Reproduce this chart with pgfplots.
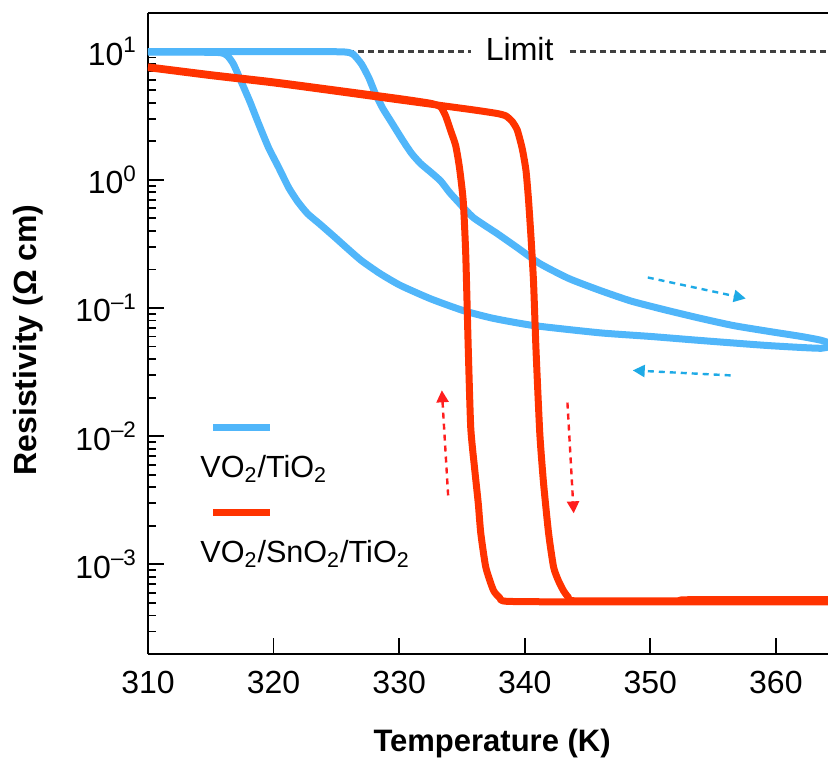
\documentclass[border=0pt]{standalone}
\usepackage{fontspec}
\setmainfont{Liberation Sans}
\usepackage{pgfplots}
\pgfplotsset{compat=1.18}
\usetikzlibrary{arrows.meta}

\definecolor{vblue}{RGB}{80,182,250}
\definecolor{vred}{RGB}{255,51,0}
\definecolor{ablue}{RGB}{30,170,230}
\definecolor{ared}{RGB}{255,30,30}

\begin{document}
\begin{tikzpicture}
\begin{axis}[
  scale only axis, width=340pt, height=320.5pt,
  xmin=310, xmax=364.15,
  ymode=log, ymin=2e-4, ymax=20,
  axis x line=box, axis y line*=left,
  y axis line style={-},
  axis line style={line width=1pt},
  xtick={310,320,...,360}, xtick pos=left,
  ytick={1e-3,1e-2,1e-1,1,10}, ytick pos=left,
  yticklabels={10\textsuperscript{–3},10\textsuperscript{–2},10\textsuperscript{–1},10\textsuperscript{0},10\textsuperscript{1}},
  minor ytick={2e-4,3e-4,4e-4,5e-4,6e-4,7e-4,8e-4,9e-4,
               2e-3,3e-3,4e-3,5e-3,6e-3,7e-3,8e-3,9e-3,
               2e-2,3e-2,4e-2,5e-2,6e-2,7e-2,8e-2,9e-2,
               0.2,0.3,0.4,0.5,0.6,0.7,0.8,0.9,
               2,3,4,5,6,7,8,9},
  tick align=inside,
  major tick length=8pt, minor tick length=4pt,
  every tick/.style={black, line width=0.9pt},
  /pgf/number format/assume math mode=true,
  ticklabel style={font=\fontsize{16}{19}\selectfont},
  xticklabel style={yshift=-5pt},
  yticklabel style={xshift=-2pt},
  xlabel={\bfseries Temperature (K)},
  xlabel style={font=\fontsize{15.5}{18}\selectfont, at={(axis description cs:0.506,-0.139)}, anchor=center},
  ylabel={\bfseries Resistivity (Ω cm)},
  ylabel style={font=\fontsize{16}{19}\selectfont, at={(axis description cs:-0.1765,0.49)}, anchor=center, rotate=0},
  clip=true,
  curve/.style={line width=3.5pt, line join=round, smooth, tension=0.35},
]

% measurement limit
\addplot[color=black!75, line width=1.2pt, dash pattern=on 3pt off 2pt] coordinates {(310,10) (335.7,10)};
\addplot[color=black!75, line width=1.2pt, dash pattern=on 3pt off 2pt] coordinates {(343.6,10) (364.5,10)};
\node[font=\fontsize{16}{19}\selectfont, inner sep=0pt] at (axis cs:339.6,10.5) {Limit};

% VO2/TiO2, heating
\addplot[curve, color=vblue] coordinates {
(310,10.0)(316,10.0)(322,10.0)(325.5,9.95)(326.3,9.6)(327.0,8.0)(327.6,6.2)
(328.1,4.70)(328.7,3.6)(329.3,2.90)(330.3,2.02)(331.0,1.60)(331.7,1.34)
(332.5,1.15)(333.3,0.98)(334.0,0.80)(334.6,0.689)(335.9,0.508)(337.8,0.381)
(339.4,0.296)(341.2,0.222)(343.5,0.170)(346.0,0.137)(348.5,0.113)(351.4,0.0955)
(354,0.083)(356.6,0.073)(359.3,0.066)(362.0,0.060)(363.6,0.056)(364.6,0.052)};
% VO2/TiO2, cooling
\addplot[curve, color=vblue] coordinates {
(364.6,0.052)(363.6,0.0485)(359.3,0.051)(354.0,0.0558)(350.0,0.060)(346.0,0.064)
(340.7,0.073)(337.5,0.083)(335.1,0.0955)(332.5,0.118)(330.1,0.150)(328.5,0.185)
(327.0,0.234)(325.9,0.29)(324.9,0.355)(323.7,0.45)(322.7,0.545)(321.9,0.68)
(321.2,0.87)(320.4,1.25)(319.6,1.78)(318.8,2.75)(318.1,4.1)(317.4,5.9)
(316.8,8.0)(316.3,9.3)(315.5,9.85)(310,9.9)};

% VO2/SnO2/TiO2, heating
\addplot[curve, color=vred] coordinates {
(310,7.5)(315,6.5)(320,5.7)(325,4.9)(330,4.2)(333.3,3.8)(336,3.5)(337.8,3.29)
(338.5,3.15)(339.0,2.85)(339.4,2.45)(339.8,1.75)(340.1,1.18)(340.3,0.70)
(340.5,0.355)(340.7,0.16)(340.9,0.0466)(341.2,0.0105)(341.5,4.28e-3)
(341.9,1.75e-3)(342.3,9.5e-4)(342.7,7.4e-4)(343.1,6.2e-4)(343.5,5.5e-4)
(344.0,5.2e-4)(352,5.2e-4)(353,5.3e-4)(364.5,5.3e-4)};
% VO2/SnO2/TiO2, cooling
\addplot[curve, color=vred] coordinates {
(364.5,5.1e-4)(345,5.1e-4)(338.6,5.15e-4)(338.0,5.5e-4)(337.5,6.3e-4)
(336.9,9.5e-4)(336.5,1.75e-3)(336.3,2.99e-3)(336.0,5.7e-3)(335.7,0.0117)
(335.5,0.0492)(335.3,0.266)(335.1,0.689)(334.8,1.25)(334.5,1.85)(334.1,2.42)
(333.7,3.15)(333.3,3.7)(332.5,3.95)(330,4.3)(325,5.0)(320,5.8)(315,6.6)(310,7.6)};

% sweep direction arrows
\draw[ablue, line width=1.2pt, dash pattern=on 3pt off 2.5pt, -{Triangle[length=6pt,width=6pt]}]
  (axis cs:349.8,0.173) -- (axis cs:357.6,0.1186);
\draw[ablue, line width=1.2pt, dash pattern=on 3pt off 2.5pt, -{Triangle[length=6pt,width=6pt]}]
  (axis cs:356.4,0.0298) -- (axis cs:348.6,0.0326);
\draw[ared, line width=1.2pt, dash pattern=on 3pt off 2.5pt, -{Triangle[length=6pt,width=6pt]}]
  (axis cs:333.9,3.45e-3) -- (axis cs:333.4,0.0228);
\draw[ared, line width=1.2pt, dash pattern=on 3pt off 2.5pt, -{Triangle[length=6pt,width=6pt]}]
  (axis cs:343.4,0.0183) -- (axis cs:343.9,2.5e-3);

% legend
\draw[vblue, line width=3.5pt] (axis cs:315.18,0.0117) -- (axis cs:319.72,0.0117);
\node[anchor=base west, inner sep=0pt, font=\fontsize{15.3}{18}\selectfont] at (axis cs:314.14,4.76e-3) {VO\textsubscript{2}/TiO\textsubscript{2}};
\draw[vred, line width=3.5pt] (axis cs:315.18,2.54e-3) -- (axis cs:319.72,2.54e-3);
\node[anchor=base west, inner sep=0pt, font=\fontsize{15.3}{18}\selectfont] at (axis cs:314.14,1.04e-3) {VO\textsubscript{2}/SnO\textsubscript{2}/TiO\textsubscript{2}};
\end{axis}
\pgfresetboundingbox
\path (-74pt,-52.5pt) rectangle (340pt,327pt);
\end{tikzpicture}
\end{document}
